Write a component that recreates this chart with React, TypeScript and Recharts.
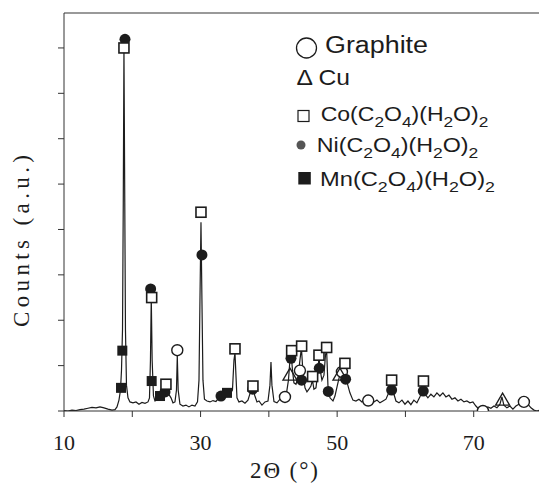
import React from 'react';
import { ComposedChart, Line, Scatter, XAxis, YAxis, ReferenceLine } from 'recharts';

// measured XRD pattern, [2θ, counts]
const pattern: [number, number][] = [
  [10.0, 0.01], [10.59, 0.0], [11.17, 0.02], [11.76, 0.01], [12.34, 0.03], [12.93, 0.04],
  [13.51, 0.06], [14.1, 0.08], [14.69, 0.07], [15.27, 0.09], [15.86, 0.07], [16.44, 0.04],
  [17.03, 0.02], [17.47, 0.03], [17.76, 0.09], [18.05, 0.24], [18.27, 0.46], [18.42, 0.9],
  [18.57, 1.8], [18.68, 4.6], [18.78, 8.0], [18.9, 4.6], [19.0, 1.8], [19.15, 0.57],
  [19.37, 0.29], [19.66, 0.2], [20.1, 0.18], [20.54, 0.2], [20.98, 0.15], [21.42, 0.19],
  [21.86, 0.17], [22.3, 0.2], [22.52, 0.29], [22.66, 1.12], [22.78, 2.5], [22.91, 1.12],
  [23.1, 0.33], [23.32, 0.22], [23.62, 0.24], [23.91, 0.33], [24.35, 0.4], [24.79, 0.42],
  [25.23, 0.4], [25.67, 0.29], [25.96, 0.18], [26.25, 0.2], [26.47, 0.46], [26.59, 1.21],
  [26.72, 0.46], [26.98, 0.15], [27.42, 0.11], [27.86, 0.13], [28.3, 0.09], [28.74, 0.13],
  [29.18, 0.11], [29.55, 0.2], [29.77, 0.68], [29.91, 2.44], [30.06, 4.16], [30.2, 2.44],
  [30.35, 0.68], [30.57, 0.26], [30.94, 0.22], [31.38, 0.2], [31.82, 0.23], [32.25, 0.21],
  [32.69, 0.29], [33.13, 0.35], [33.72, 0.4], [34.3, 0.37], [34.67, 0.46], [34.89, 1.12],
  [35.04, 1.28], [35.18, 0.79], [35.33, 0.29], [35.62, 0.2], [36.06, 0.22], [36.5, 0.17],
  [36.94, 0.24], [37.31, 0.42], [37.67, 0.48], [37.96, 0.33], [38.26, 0.2], [38.55, 0.22],
  [38.99, 0.13], [39.43, 0.2], [39.87, 0.22], [40.16, 0.57], [40.31, 1.08], [40.45, 0.57],
  [40.75, 0.21], [41.19, 0.18], [41.63, 0.26], [42.07, 0.22], [42.5, 0.31], [42.87, 0.68],
  [43.09, 1.12], [43.28, 1.23], [43.46, 0.9], [43.67, 0.62], [43.97, 0.59], [44.26, 0.73],
  [44.55, 1.12], [44.77, 1.39], [44.99, 0.86], [45.29, 0.51], [45.58, 0.42], [45.87, 0.48],
  [46.16, 0.55], [46.38, 0.68], [46.6, 0.48], [46.9, 0.51], [47.12, 0.79], [47.34, 1.19],
  [47.56, 0.86], [47.77, 0.68], [48.07, 0.79], [48.29, 1.23], [48.46, 1.34], [48.65, 0.57],
  [48.95, 0.29], [49.39, 0.22], [49.68, 0.33], [50.04, 0.57], [50.41, 0.81], [50.7, 0.88],
  [51.07, 0.81], [51.43, 0.64], [51.87, 0.4], [52.31, 0.24], [52.75, 0.22], [53.19, 0.26],
  [53.63, 0.2], [54.07, 0.24], [54.51, 0.22], [54.95, 0.26], [55.39, 0.2], [55.83, 0.24],
  [56.27, 0.18], [56.71, 0.22], [57.15, 0.26], [57.6, 0.42], [57.98, 0.51], [58.32, 0.37],
  [58.61, 0.22], [59.05, 0.18], [59.49, 0.24], [59.93, 0.15], [60.37, 0.22], [60.8, 0.14],
  [61.24, 0.24], [61.68, 0.18], [62.11, 0.31], [62.6, 0.48], [63.0, 0.35], [63.29, 0.29],
  [63.73, 0.37], [64.17, 0.31], [64.61, 0.4], [65.05, 0.33], [65.49, 0.4], [65.93, 0.31],
  [66.37, 0.35], [66.81, 0.26], [67.25, 0.29], [67.69, 0.22], [68.13, 0.26], [68.57, 0.2],
  [69.0, 0.22], [69.44, 0.18], [69.88, 0.2], [70.32, 0.11], [70.76, 0.04], [71.2, 0.01],
  [71.64, 0.04], [72.08, 0.09], [72.52, 0.06], [72.96, 0.11], [73.4, 0.07], [73.84, 0.15],
  [74.13, 0.31], [74.42, 0.13], [74.86, 0.07], [75.3, 0.11], [75.74, 0.04], [76.18, 0.11],
  [76.62, 0.15], [77.06, 0.2], [77.5, 0.21], [77.94, 0.15], [78.38, 0.07], [78.82, 0.02],
  [79.25, 0.0], [79.69, 0.02],
];

// phase markers, [2θ, counts]
const graphite: [number, number][] = [
  [26.59, 1.34], [42.36, 0.31], [44.55, 0.89], [50.7, 0.86], [54.55, 0.23], [71.35, 0.0], [77.35, 0.2],
];
const cu: [number, number][] = [[43.09, 0.79], [50.41, 0.79], [74.23, 0.24]];
const coOx: [number, number][] = [
  [18.78, 8.0], [22.84, 2.5], [30.06, 4.38], [24.93, 0.59], [35.04, 1.37], [37.67, 0.55],
  [43.34, 1.33], [44.8, 1.43], [46.41, 0.76], [47.34, 1.23], [48.46, 1.4], [51.14, 1.05],
  [57.98, 0.68], [62.64, 0.66],
];
const niOx: [number, number][] = [
  [18.93, 8.19], [22.69, 2.69], [30.2, 3.44], [24.79, 0.42], [32.99, 0.33], [37.63, 0.48],
  [43.24, 1.16], [44.8, 0.68], [47.38, 0.94], [48.7, 0.43], [51.24, 0.7], [57.98, 0.46], [62.61, 0.44],
];
const mnOx: [number, number][] = [
  [18.54, 1.33], [18.35, 0.51], [22.84, 0.66], [24.06, 0.33], [33.87, 0.4],
];

const xTicks = [10, 20, 30, 40, 50, 60, 70, 80];
const yTicks = [0, 1, 2, 3, 4, 5, 6, 7, 8];
const Y_MAX = 8.77;

const toPts = (arr: [number, number][]) => arr.map(([x, y]) => ({ x, y }));

const INK = '#1c1c1c';
const serif = '"Liberation Serif", "Times New Roman", serif';
const sans = '"Liberation Sans", Arial, sans-serif';

const OpenCircle = (p: any) => <circle cx={p.cx} cy={p.cy} r={5.5} fill="#fff" stroke={INK} strokeWidth={1.4} />;
const DotFilled = (p: any) => <circle cx={p.cx} cy={p.cy} r={5.5} fill={INK} />;
const OpenSquare = (p: any) => <rect x={p.cx - 5} y={p.cy - 5} width={10} height={10} fill="#fff" stroke={INK} strokeWidth={1.6} />;
const FilledSquare = (p: any) => <rect x={p.cx - 5} y={p.cy - 5} width={10} height={10} fill={INK} />;
const OpenTriangle = (p: any) => (
  <path d={`M${p.cx},${p.cy - 7} L${p.cx + 7},${p.cy + 5} L${p.cx - 7},${p.cy + 5} Z`} fill="none" stroke={INK} strokeWidth={1.3} />
);

// M(C2O4)(H2O)2 with lowered digits
const oxalate = (metal: string) => {
  const parts = [`${metal}(C`, '2', 'O', '4', ')(H', '2', 'O)', '2'];
  return parts.map((s, i) =>
    i % 2 === 1 ? (
      <tspan key={i} dy={6} fontSize={15}>{s}</tspan>
    ) : (
      <tspan key={i} dy={i === 0 ? 0 : -6}>{s}</tspan>
    ),
  );
};

export default function App() {
  return (
    <div style={{ position: 'absolute', left: 0, top: 0, width: 539, height: 483, overflow: 'hidden', background: '#fff' }}>
      <ComposedChart width={542} height={483} margin={{ top: 13, right: 0, bottom: 0, left: 0 }}>
        <XAxis
          type="number"
          dataKey="x"
          domain={[10, 80]}
          ticks={xTicks}
          interval={0}
          height={72}
          stroke="#333"
          tickLine={{ stroke: '#333' }}
          tickSize={6}
          tickMargin={17}
          tickFormatter={(v: number) => (v % 20 === 10 ? String(v) : '')}
          tick={{ fill: INK, fontSize: 22, fontFamily: serif }}
        />
        <YAxis
          type="number"
          dataKey="y"
          domain={[0, Y_MAX]}
          ticks={yTicks}
          interval={0}
          width={64}
          stroke="#333"
          tickLine={{ stroke: '#333' }}
          tickSize={6}
          tickFormatter={() => ''}
          allowDataOverflow
        />
        <ReferenceLine y={Y_MAX} stroke="#777" strokeWidth={1.5} />
        <Line data={toPts(pattern)} dataKey="y" type="linear" stroke={INK} strokeWidth={1.2} dot={false} isAnimationActive={false} />
        <Scatter data={toPts(graphite)} dataKey="y" shape={OpenCircle} isAnimationActive={false} />
        <Scatter data={toPts(cu)} dataKey="y" shape={OpenTriangle} isAnimationActive={false} />
        <Scatter data={toPts(niOx)} dataKey="y" shape={DotFilled} isAnimationActive={false} />
        <Scatter data={toPts(mnOx)} dataKey="y" shape={FilledSquare} isAnimationActive={false} />
        <Scatter data={toPts(coOx)} dataKey="y" shape={OpenSquare} isAnimationActive={false} />
      </ComposedChart>

      <svg width={539} height={483} style={{ position: 'absolute', left: 0, top: 0, pointerEvents: 'none' }}>
        <text x={284} y={478} textAnchor="middle" fontFamily={serif} fontSize={23} fill={INK} textLength={68} lengthAdjust="spacing">2Θ  (°)</text>
        <text x={0} y={0} transform="translate(29,241) rotate(-90)" textAnchor="middle" fontFamily={serif} fontSize={23} fill={INK} textLength={172} lengthAdjust="spacing">Counts (a.u.)</text>

        <g fontFamily={sans} fill={INK}>
          <circle cx={306.5} cy={48} r={10} fill="none" stroke={INK} strokeWidth={1.3} />
          <text x={325} y={52.5} fontSize={23} textLength={103} lengthAdjust="spacingAndGlyphs">Graphite</text>

          <text x={296.5} y={85} fontSize={22} textLength={53.5} lengthAdjust="spacingAndGlyphs">Δ Cu</text>

          <rect x={298} y={110.5} width={11} height={11} fill="none" stroke={INK} strokeWidth={1.2} />
          <text x={320.7} y={121} fontSize={20} textLength={167.6} lengthAdjust="spacingAndGlyphs">{oxalate('Co')}</text>

          <circle cx={301} cy={145} r={4.5} fill="#555" />
          <text x={316.7} y={151.7} fontSize={20} textLength={161.6} lengthAdjust="spacingAndGlyphs">{oxalate('Ni')}</text>

          <rect x={298.3} y={172} width={12.5} height={12.5} fill={INK} />
          <text x={320} y={185.7} fontSize={20} textLength={175} lengthAdjust="spacingAndGlyphs">{oxalate('Mn')}</text>
        </g>
      </svg>
    </div>
  );
}
